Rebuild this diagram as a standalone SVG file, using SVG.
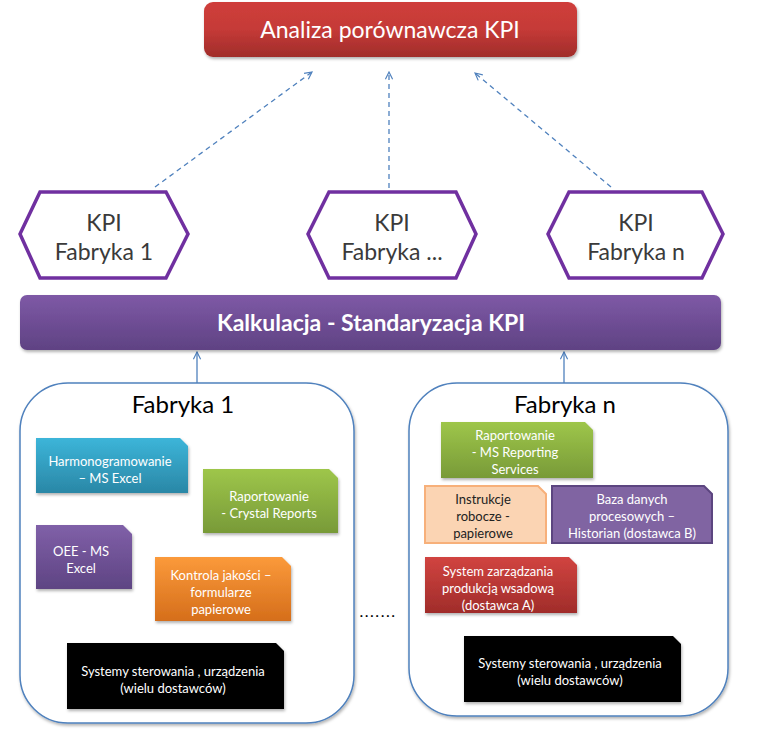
<svg xmlns="http://www.w3.org/2000/svg" width="768" height="732" viewBox="0 0 768 732">
<defs>
<linearGradient id="gRed" x1="0" y1="0" x2="0" y2="1"><stop offset="0" stop-color="#cf3e3b"/><stop offset="0.5" stop-color="#c53a37"/><stop offset="1" stop-color="#a02c2a"/></linearGradient>
<linearGradient id="gPur" x1="0" y1="0" x2="0" y2="1"><stop offset="0" stop-color="#7e59a6"/><stop offset="1" stop-color="#5f4283"/></linearGradient>
<linearGradient id="gTeal" x1="0" y1="0" x2="0" y2="1"><stop offset="0" stop-color="#3cb5d9"/><stop offset="1" stop-color="#2a87a6"/></linearGradient>
<linearGradient id="gGreen" x1="0" y1="0" x2="0" y2="1"><stop offset="0" stop-color="#9ec64a"/><stop offset="1" stop-color="#789a38"/></linearGradient>
<linearGradient id="gPur2" x1="0" y1="0" x2="0" y2="1"><stop offset="0" stop-color="#8060a8"/><stop offset="1" stop-color="#5e4483"/></linearGradient>
<linearGradient id="gOr" x1="0" y1="0" x2="0" y2="1"><stop offset="0" stop-color="#fb9a3b"/><stop offset="1" stop-color="#d56e1b"/></linearGradient>
<linearGradient id="gRed2" x1="0" y1="0" x2="0" y2="1"><stop offset="0" stop-color="#d14440"/><stop offset="1" stop-color="#a02c2a"/></linearGradient>
<filter id="sh" x="-10%" y="-10%" width="130%" height="140%"><feDropShadow dx="1" dy="2" stdDeviation="1.5" flood-color="#000" flood-opacity="0.3"/></filter>
<marker id="openArr" viewBox="0 0 10 10" refX="9" refY="5" markerWidth="9" markerHeight="9" orient="auto" markerUnits="userSpaceOnUse"><path d="M1,1 L9,5 L1,9" fill="none" stroke="#4f81bd" stroke-width="1.3"/></marker>
</defs>
<style>
text{font-family:Lato,"Open Sans","Liberation Sans",sans-serif;text-anchor:middle}
.w{fill:#fff}
.note{font-size:13px}
.hex{fill:#fff;stroke:#7030a0;stroke-width:3.5;stroke-linejoin:miter}
.hext{font-size:23px;fill:#3a3a3a}
.fab{fill:#fff;stroke:#4f81bd;stroke-width:1.5}
.fabt{font-size:24px;fill:#000}
.dash{stroke:#4f81bd;stroke-width:1.3;stroke-dasharray:5,4;fill:none}
.solid{stroke:#4f81bd;stroke-width:1.3;fill:none}
</style>

<g id="connectors">
<line class="dash" x1="155" y1="187" x2="312" y2="72" marker-end="url(#openArr)"/>
<line class="dash" x1="389" y1="188" x2="389" y2="72" marker-end="url(#openArr)"/>
<line class="dash" x1="611" y1="187" x2="475" y2="73" marker-end="url(#openArr)"/>
<line class="solid" x1="197" y1="384" x2="197" y2="352" marker-end="url(#openArr)"/>
<line class="solid" x1="564" y1="384" x2="564" y2="352" marker-end="url(#openArr)"/>
</g>

<g id="analiza">
<rect x="204" y="2" width="373" height="55" rx="9" fill="url(#gRed)" filter="url(#sh)"/>
<text x="390" y="38" class="w" font-size="23">Analiza porównawcza KPI</text>
</g>

<g id="kpi1">
<polygon class="hex" points="40,192 166,192 188,234 166,278 40,278 20,234"/>
<text x="104" y="231" class="hext">KPI</text>
<text x="104" y="260" class="hext">Fabryka 1</text>
</g>
<g id="kpi2">
<polygon class="hex" points="329,192 456,192 476,234 456,278 329,278 308,234"/>
<text x="392" y="231" class="hext">KPI</text>
<text x="392" y="260" class="hext">Fabryka ...</text>
</g>
<g id="kpi3">
<polygon class="hex" points="569,192 702,192 723,234 702,278 569,278 548,234"/>
<text x="636" y="231" class="hext">KPI</text>
<text x="636" y="260" class="hext">Fabryka n</text>
</g>

<g id="kalkulacja">
<rect x="20" y="295" width="701" height="55" rx="7" fill="url(#gPur)" filter="url(#sh)"/>
<text x="371" y="331" class="w" font-size="23" font-weight="bold">Kalkulacja - Standaryzacja KPI</text>
</g>

<g id="fabryka1">
<rect class="fab" x="20" y="383" width="334" height="340" rx="48" filter="url(#sh)"/>
<text x="183" y="413" class="fabt">Fabryka 1</text>
</g>
<g id="fabrykan">
<rect class="fab" x="409" y="383" width="319" height="333" rx="48" filter="url(#sh)"/>
<text x="565" y="413" class="fabt">Fabryka n</text>
</g>

<g id="dots">
<text x="378" y="617" font-size="16" fill="#000" letter-spacing="1.5">.......</text>
</g>

<g id="harmonogramowanie">
<path d="M36,438 H180 L188,446 V493 H36 Z" fill="url(#gTeal)" filter="url(#sh)"/>
<text x="110" y="466" class="w note">Harmonogramowanie</text>
<text x="110" y="483" class="w note">– MS Excel</text>
</g>
<g id="raport1">
<path d="M203,469 H329 L338,478 V533 H203 Z" fill="url(#gGreen)" filter="url(#sh)"/>
<text x="269" y="501" class="w note">Raportowanie</text>
<text x="269" y="518" class="w note">- Crystal Reports</text>
</g>
<g id="oee">
<path d="M36,525 H123 L132,534 V589 H36 Z" fill="url(#gPur2)" filter="url(#sh)"/>
<text x="81" y="556" class="w note">OEE - MS</text>
<text x="81" y="573" class="w note">Excel</text>
</g>
<g id="kontrola">
<path d="M155,557 H282 L291,566 V621 H155 Z" fill="url(#gOr)" filter="url(#sh)"/>
<text x="221" y="580" class="w note">Kontrola jakości –</text>
<text x="221" y="597" class="w note">formularze</text>
<text x="221" y="614" class="w note">papierowe</text>
</g>
<g id="systemy1">
<path d="M67,643 H276 L284,651 V709 H67 Z" fill="#000" filter="url(#sh)"/>
<text x="173" y="676" class="w note">Systemy sterowania , urządzenia</text>
<text x="173" y="693" class="w note">(wielu dostawców)</text>
</g>

<g id="raportn">
<path d="M441,422 H585 L593,430 V478 H441 Z" fill="url(#gGreen)" filter="url(#sh)"/>
<text x="515" y="440" class="w note">Raportowanie</text>
<text x="515" y="457" class="w note">- MS Reporting</text>
<text x="515" y="474" class="w note">Services</text>
</g>
<g id="instrukcje">
<path d="M425,486 H538 L546,494 V543 H425 Z" fill="#fbd4b3" stroke="#f7b07a" stroke-width="2"/>
<text x="483" y="504" class="note" fill="#222">Instrukcje</text>
<text x="483" y="521" class="note" fill="#222">robocze -</text>
<text x="483" y="538" class="note" fill="#222">papierowe</text>
</g>
<g id="baza">
<path d="M552,486 H704 L712,494 V543 H552 Z" fill="#8064a2" stroke="#5c4580" stroke-width="2"/>
<text x="632" y="504" class="w note">Baza danych</text>
<text x="632" y="521" class="w note">procesowych –</text>
<text x="632" y="538" class="w note">Historian (dostawca B)</text>
</g>
<g id="systemzarz">
<path d="M425,557 H569 L577,565 V613 H425 Z" fill="url(#gRed2)" filter="url(#sh)"/>
<text x="498" y="576" class="w note">System zarządzania</text>
<text x="498" y="593" class="w note">produkcją wsadową</text>
<text x="498" y="610" class="w note">(dostawca A)</text>
</g>
<g id="systemyn">
<path d="M464,636 H673 L681,644 V702 H464 Z" fill="#000" filter="url(#sh)"/>
<text x="570" y="668" class="w note">Systemy sterowania , urządzenia</text>
<text x="570" y="685" class="w note">(wielu dostawców)</text>
</g>
</svg>
